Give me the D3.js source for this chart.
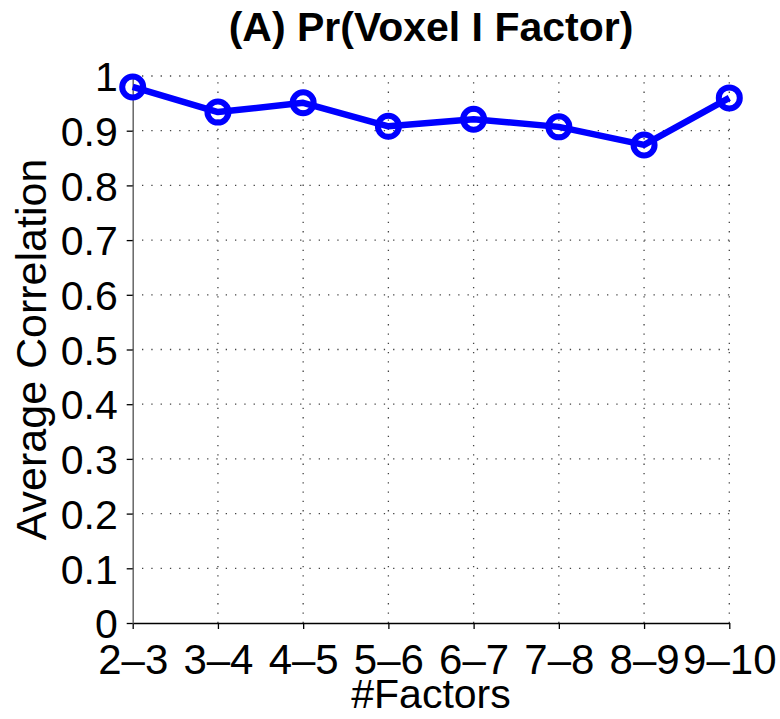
<!DOCTYPE html>
<html><head><meta charset="utf-8">
<script src="https://cdn.jsdelivr.net/npm/d3@7"></script>
<style>body{margin:0;background:#fff}svg{display:block}text{font-family:"Liberation Sans",Arial,Helvetica,sans-serif;fill:#000}</style>
</head><body>
<svg id="c" width="780" height="719"></svg>
<script>
const categories = ["2\u20133","3\u20134","4\u20135","5\u20136","6\u20137","7\u20138","8\u20139","9\u201310"];
const values = [0.980, 0.934, 0.951, 0.908, 0.921, 0.907, 0.874, 0.960];
const yTicks = [0,0.1,0.2,0.3,0.4,0.5,0.6,0.7,0.8,0.9,1];
const yTickLabels = ["0","0.1","0.2","0.3","0.4","0.5","0.6","0.7","0.8","0.9","1"];
const title = "(A) Pr(Voxel I Factor)";
const xTitle = "#Factors";
const yTitle = "Average Correlation";

const svg = d3.select("#c");
const L = 132.7, R = 729.3, T = 76, B = 623;
const x = d3.scalePoint().domain(categories).range([L, R]);
const y = d3.scaleLinear().domain([0, 1]).range([B, T]);

// grid
const g = svg.append("g");
g.selectAll("line.h").data(yTicks.slice(1)).enter().append("line")
  .attr("x1", L).attr("x2", R).attr("y1", d => y(d)).attr("y2", d => y(d))
  .attr("stroke", "#444").attr("stroke-width", 1.3).attr("stroke-dasharray", "1.3,8");
g.selectAll("line.v").data(categories.slice(1)).enter().append("line")
  .attr("x1", d => x(d)).attr("x2", d => x(d)).attr("y1", B).attr("y2", T)
  .attr("stroke", "#444").attr("stroke-width", 1.3).attr("stroke-dasharray", "1.3,8");

// x axis
const xa = svg.append("g").attr("transform", `translate(0,${B})`)
  .call(d3.axisBottom(x).tickSize(6).tickPadding(10).tickSizeOuter(0));
xa.select(".domain").attr("stroke", "#000").attr("stroke-width", 1.5);
xa.selectAll(".tick line").attr("stroke", "#000").attr("stroke-width", 1.3);
xa.selectAll(".tick text").style("font-size", "42px").attr("dy", "0.72em").attr("y", 21);

// y axis
const ya = svg.append("g").attr("transform", `translate(${L},0)`)
  .call(d3.axisLeft(y).tickValues(yTicks).tickFormat((d, i) => yTickLabels[i]).tickSize(6).tickPadding(9).tickSizeOuter(0));
ya.select(".domain").attr("stroke", "#666").attr("stroke-width", 1.5);
ya.selectAll(".tick line").attr("stroke", "#000").attr("stroke-width", 1.3);
ya.selectAll(".tick text").style("font-size", "41px").attr("dy", "0.36em");

// line
const line = d3.line().x((d, i) => x(categories[i])).y(d => y(d));
svg.append("path").datum(values).attr("d", line)
  .attr("fill", "none").attr("stroke", "#0000ff").attr("stroke-width", 6.5).attr("stroke-linejoin", "round");
svg.selectAll("circle.pt").data(values).enter().append("circle")
  .attr("cx", (d, i) => x(categories[i])).attr("cy", d => y(d)).attr("r", 10.5)
  .attr("fill", "none").attr("stroke", "#0000ff").attr("stroke-width", 6);

// titles
svg.append("text").attr("x", (L + R) / 2).attr("y", 41).attr("text-anchor", "middle")
  .style("font-size", "41px").style("font-weight", "bold").text(title);
svg.append("text").attr("x", (L + R) / 2).attr("y", 708).attr("text-anchor", "middle")
  .style("font-size", "41px").text(xTitle);
svg.append("text").attr("transform", `translate(46,${(T + B) / 2}) rotate(-90)`).attr("text-anchor", "middle")
  .style("font-size", "43px").text(yTitle);
</script>
</body></html>
